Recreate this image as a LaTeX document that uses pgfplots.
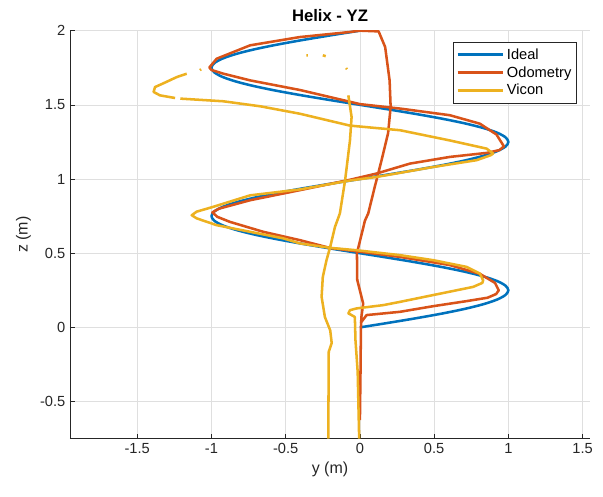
\documentclass[border=0pt]{standalone}
\usepackage{fontspec}
\setmainfont{Liberation Sans}
\usepackage{pgfplots}
\pgfplotsset{compat=1.18}
\definecolor{mblue}{rgb}{0,0.447,0.741}
\definecolor{mred}{rgb}{0.85,0.325,0.098}
\definecolor{myel}{rgb}{0.929,0.694,0.125}
\definecolor{axgray}{rgb}{0.15,0.15,0.15}
\definecolor{gridgray}{rgb}{0.875,0.875,0.875}
\begin{document}
\begin{tikzpicture}
\begin{axis}[
  at={(0,0)}, anchor=south west,
  scale only axis, width=390pt, height=306pt,
  xmin=-1.953, xmax=1.55, ymin=-0.75, ymax=2,
  axis x line*=bottom, axis y line*=left,
  axis line style={axgray, line width=0.5pt, -},
  tick align=inside, major tick length=3.5pt,
  tick style={axgray, line width=0.5pt},
  xtick={-1.5,-1,-0.5,0,0.5,1,1.5},
  xticklabels={{-1.5},{-1},{-0.5},{0},{0.5},{1},{1.5}},
  ytick={-0.5,0,0.5,1,1.5,2},
  yticklabels={{-0.5},{0},{0.5},{1},{1.5},{2}},
  ticklabel style={font=\fontsize{11}{13}\selectfont, text=axgray},
  grid=major,
  major grid style={gridgray, line width=0.5pt},
  title={\textbf{Helix - YZ}},
  title style={font=\fontsize{12.5}{15}\selectfont, yshift=-3pt},
  xlabel={y (m)}, ylabel={z (m)},
  label style={font=\fontsize{12}{14}\selectfont, text=axgray},
  xlabel style={yshift=1pt},
  unbounded coords=jump,
  legend style={at={(0.975,0.972)}, anchor=north east, draw=axgray, line width=0.5pt,
    font=\fontsize{11}{13}\selectfont, row sep=-1pt, inner sep=2pt,
    nodes={inner ysep=2.5pt}},
  legend cell align=left,
  legend image code/.code={\draw[#1, line width=1.9pt] (0pt,0pt) -- (34pt,0pt);},
  every axis plot/.append style={line width=1.9pt, line join=round},
]
\addplot[mblue, smooth] coordinates {
(0,0)(0.1951,0.03125)(0.3827,0.0625)(0.5556,0.09375)(0.7071,0.125)(0.8315,0.15625)(0.9239,0.1875)(0.9808,0.21875)(1,0.25)(0.9808,0.28125)(0.9239,0.3125)(0.8315,0.34375)(0.7071,0.375)(0.5556,0.40625)(0.3827,0.4375)(0.1951,0.46875)(0,0.5)(-0.1951,0.53125)(-0.3827,0.5625)(-0.5556,0.59375)(-0.7071,0.625)(-0.8315,0.65625)(-0.9239,0.6875)(-0.9808,0.71875)(-1,0.75)(-0.9808,0.78125)(-0.9239,0.8125)(-0.8315,0.84375)(-0.7071,0.875)(-0.5556,0.90625)(-0.3827,0.9375)(-0.1951,0.96875)
(0,1)(0.1951,1.03125)(0.3827,1.0625)(0.5556,1.09375)(0.7071,1.125)(0.8315,1.15625)(0.9239,1.1875)(0.9808,1.21875)(1,1.25)(0.9808,1.28125)(0.9239,1.3125)(0.8315,1.34375)(0.7071,1.375)(0.5556,1.40625)(0.3827,1.4375)(0.1951,1.46875)(0,1.5)(-0.1951,1.53125)(-0.3827,1.5625)(-0.5556,1.59375)(-0.7071,1.625)(-0.8315,1.65625)(-0.9239,1.6875)(-0.9808,1.71875)(-1,1.75)(-0.9808,1.78125)(-0.9239,1.8125)(-0.8315,1.84375)(-0.7071,1.875)(-0.5556,1.90625)(-0.3827,1.9375)(-0.1951,1.96875)(0,2)
};
\addlegendentry{Ideal}
\addplot[mred] coordinates {
(0.005,0.03)(0.045,0.083)(0.27,0.105)(0.494,0.143)(0.718,0.177)(0.86,0.2)(0.918,0.225)(0.935,0.25)(0.91,0.3)(0.81,0.36)(0.606,0.42)(0.27,0.475)(-0.045,0.516)(-0.2,0.535)(-0.404,0.588)(-0.65,0.644)(-0.875,0.711)(-0.96,0.745)(-0.994,0.775)(-0.95,0.8)(-0.74,0.857)(-0.404,0.925)(-0.067,0.995)(0.112,1.037)(0.337,1.104)(0.606,1.149)(0.853,1.176)(0.94,1.195)(0.97,1.22)(0.92,1.3)(0.808,1.373)(0.606,1.43)(0.27,1.475)(0,1.505)(-0.404,1.6)(-0.74,1.665)(-0.92,1.71)(-1.0,1.735)(-1.014,1.752)(-0.965,1.811)(-0.74,1.901)(-0.404,1.957)(-0.067,1.991)(0,2.0)(0.126,1.995)(0.17,1.89)(0.2,1.665)(0.207,1.486)(0.19,1.31)(0.146,1.127)(0.1,0.947)(0.056,0.768)(0.034,0.72)(-0.02,0.5)(-0.018,0.32)(0.022,0.16)(0.01,0.07)(0.007,0)(0.004,-0.3)(0.0,-0.625)
};
\addlegendentry{Odometry}
\addplot[myel] coordinates {
(-0.005,-0.75)(-0.015,-0.3)(-0.03,-0.085)(-0.034,0.07)(-0.06,0.085)(-0.078,0.094)(-0.067,0.116)(-0.022,0.128)(0.157,0.15)(0.27,0.172)(0.494,0.218)(0.763,0.273)(0.825,0.3)(0.83,0.318)(0.808,0.363)(0.718,0.408)(0.494,0.453)(0.27,0.487)(-0.022,0.52)(-0.2,0.536)(-0.404,0.566)(-0.516,0.6)(-0.965,0.689)(-1.1,0.735)(-1.133,0.756)(-1.1,0.78)(-0.99,0.812)(-0.74,0.89)(-0.404,0.93)(-0.067,0.99)(0.112,1.014)(0.494,1.081)(0.786,1.127)(0.88,1.16)(0.898,1.172)(0.853,1.205)(0.606,1.26)(0.27,1.329)(-0.067,1.36)(-0.404,1.44)(-0.67,1.49)(-0.92,1.524)(-1.21,1.542)
(nan,nan)
(-1.245,1.546)(-1.347,1.564)(-1.39,1.587)(-1.38,1.62)(-1.32,1.647)(-1.234,1.687)(-1.167,1.71)
(nan,nan)
(-1.078,1.734)(-1.07,1.740)
(nan,nan)
(-0.36,1.834)(-0.35,1.834)
(nan,nan)
(-0.25,1.834)(-0.23,1.828)
(nan,nan)
(-0.093,1.748)(-0.087,1.740)
(nan,nan)
(-0.078,1.564)(-0.056,1.418)(-0.067,1.26)(-0.1,0.99)(-0.135,0.768)(-0.168,0.677)(-0.2,0.543)(-0.225,0.453)(-0.25,0.34)(-0.258,0.206)(-0.236,0.07)(-0.2,-0.02)(-0.19,-0.106)(-0.21,-0.164)(-0.213,-0.75)
};
\addlegendentry{Vicon}
\end{axis}
\pgfresetboundingbox
\path[use as bounding box] (-52.5pt,-43pt) rectangle (399.75pt,329pt);
\end{tikzpicture}
\end{document}
